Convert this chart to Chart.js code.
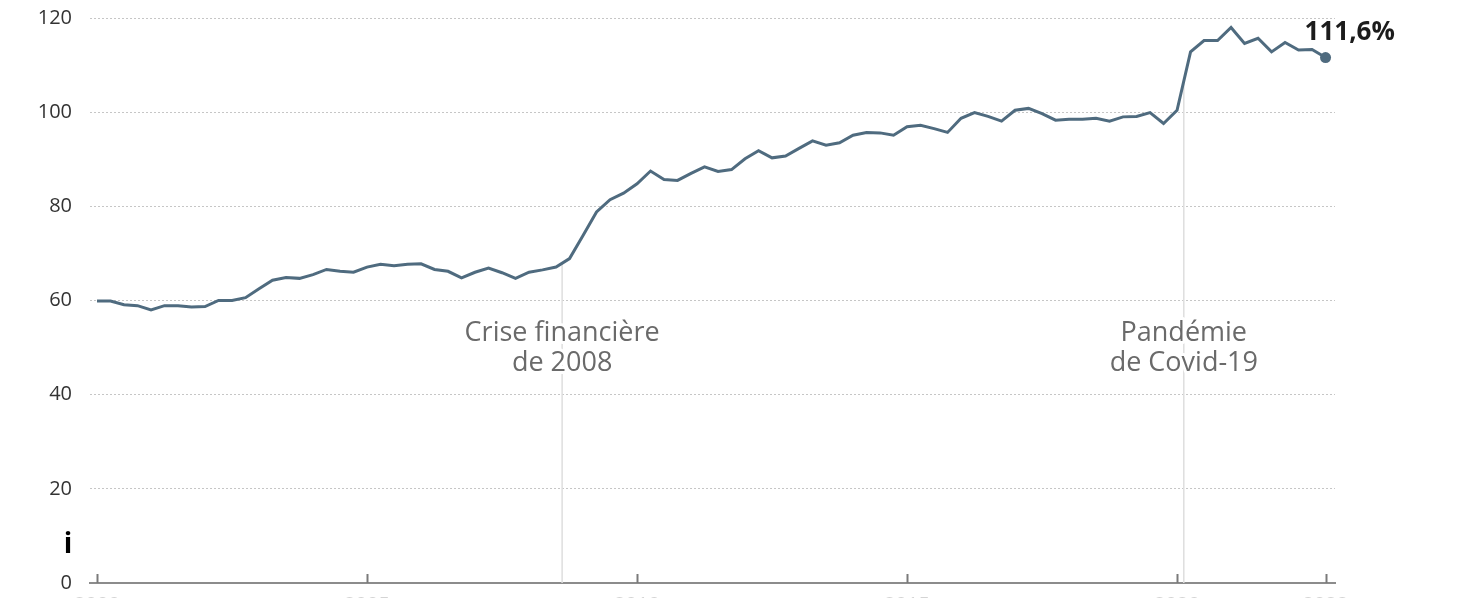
<!DOCTYPE html>
<html lang="fr">
<head>
<meta charset="utf-8">
<title>Dette publique</title>
<script src="https://cdn.jsdelivr.net/npm/chart.js@4/dist/chart.umd.min.js"></script>
<style>
  html, body { margin: 0; padding: 0; background: #fff; overflow: hidden; height: 598px; }
  #wrap { position: relative; width: 1458px; height: 625px; margin-top: -12px; }
</style>
</head>
<body>
<div id="wrap"><canvas id="detteChart"></canvas></div>
<script>
// Dette publique en % du PIB, trimestrielle, 2000 T1 -> 2022 T4
const years = ["2000", "2001", "2002", "2003", "2004", "2005", "2006", "2007", "2008", "2009", "2010", "2011",
  "2012", "2013", "2014", "2015", "2016", "2017", "2018", "2019", "2020", "2021", "2022"];
const quarters = years.flatMap((y) => [y + "T1", y + "T2", y + "T3", y + "T4"]);

const debtValues = [
  59.9, 59.9, 59.1, 58.9,
  58.0, 58.9, 58.9, 58.6,
  58.7, 60.0, 60.0, 60.6,
  62.5, 64.3, 64.9, 64.7,
  65.5, 66.6, 66.2, 66.0,
  67.1, 67.7, 67.4, 67.7,
  67.8, 66.6, 66.2, 64.8,
  66.0, 66.9, 65.9, 64.7,
  66.0, 66.5, 67.1, 68.9,
  73.8, 78.8, 81.4, 82.8,
  84.8, 87.5, 85.7, 85.5,
  87.0, 88.4, 87.4, 87.8,
  90.1, 91.8, 90.3, 90.7,
  92.3, 93.9, 93.0, 93.5,
  95.1, 95.7, 95.6, 95.1,
  96.9, 97.2, 96.5, 95.7,
  98.7, 99.9, 99.1, 98.1,
  100.4, 100.8, 99.7, 98.3,
  98.5, 98.5, 98.7, 98.1,
  99.0, 99.1, 99.9, 97.6,
  100.4, 112.8, 115.2, 115.2,
  118.0, 114.6, 115.7, 112.8,
  114.8, 113.2, 113.3, 111.6,
];

// Graduations de l'axe des x (index du trimestre) et leurs libellés
const xTickIndex = [0, 20, 40, 60, 80, 91];
const xTickLabels = ["2000", "2005", "2010", "2015", "2020", "2022"];
const yTicks = [0, 20, 40, 60, 80, 100, 120];

// Evénements annotés (position en index de trimestre)
const eventIndex = [34.45, 80.5];
const eventLabels = [["Crise financière", "de 2008"], ["Pandémie", "de Covid-19"]];
const lastLabel = "111,6%";

const lineColor = "#4f6b7f";

// Valeur interpolée de la courbe pour un index fractionnaire
function valueAt(idx) {
  const i = Math.floor(idx);
  const t = idx - i;
  const a = debtValues[i];
  const b = debtValues[Math.min(i + 1, debtValues.length - 1)];
  return a + (b - a) * t;
}

const annotations = {
  id: "annotations",
  beforeDatasetsDraw(chart) {
    const { ctx, chartArea, scales } = chart;
    const x = scales.x;
    const y = scales.y;
    ctx.save();
    // lignes verticales des événements
    ctx.strokeStyle = "#dedede";
    ctx.lineWidth = 1.5;
    eventIndex.forEach((idx) => {
      const px = x.getPixelForValue(idx);
      ctx.beginPath();
      ctx.moveTo(px, y.getPixelForValue(valueAt(idx)));
      ctx.lineTo(px, chartArea.bottom);
      ctx.stroke();
    });
    // petites graduations vers le haut sur l'axe x
    ctx.strokeStyle = "#7a7a7a";
    ctx.lineWidth = 2;
    xTickIndex.forEach((idx) => {
      const px = Math.round(x.getPixelForValue(idx)) + 0.5;
      ctx.beginPath();
      ctx.moveTo(px, chartArea.bottom);
      ctx.lineTo(px, chartArea.bottom - 9);
      ctx.stroke();
    });
    ctx.restore();
  },
  afterDatasetsDraw(chart) {
    const { ctx, scales } = chart;
    const x = scales.x;
    const y = scales.y;
    ctx.save();
    // textes des événements, avec un halo blanc
    ctx.font = "27px 'Open Sans'";
    ctx.textAlign = "center";
    ctx.textBaseline = "middle";
    ctx.lineJoin = "round";
    eventIndex.forEach((idx, k) => {
      const px = x.getPixelForValue(idx);
      eventLabels[k].forEach((line, j) => {
        const py = y.getPixelForValue(53) + j * 30;
        ctx.strokeStyle = "#ffffff";
        ctx.lineWidth = 6;
        ctx.strokeText(line, px, py);
        ctx.fillStyle = "#6a6a6a";
        ctx.fillText(line, px, py);
      });
    });
    // valeur finale
    const lastIdx = debtValues.length - 1;
    const lx = x.getPixelForValue(lastIdx);
    const ly = y.getPixelForValue(debtValues[lastIdx]);
    ctx.font = "bold 26px 'Open Sans'";
    ctx.textAlign = "left";
    ctx.fillStyle = "#1c1c1c";
    ctx.fillText(lastLabel, lx - 21, ly - 25);
    // le "i" isolé en bas à gauche (coordonnées de la page, canvas décalé de 12 px)
    ctx.font = "bold 28px 'Open Sans'";
    ctx.textAlign = "center";
    ctx.textBaseline = "alphabetic";
    ctx.fillStyle = "#000";
    ctx.fillText("i", 68, 553 + 12);
    ctx.restore();
  },
};

const ctx = document.getElementById("detteChart");
new Chart(ctx, {
  type: "line",
  data: {
    datasets: [
      {
        label: "Dette publique (% du PIB)",
        data: debtValues.map((v, i) => ({ x: i, y: v, q: quarters[i] })),
        borderColor: lineColor,
        backgroundColor: lineColor,
        borderWidth: 3,
        tension: 0,
        pointRadius: debtValues.map((v, i) => (i === debtValues.length - 1 ? 5.5 : 0)),
        pointBackgroundColor: lineColor,
        pointBorderWidth: 0,
        clip: false,
      },
    ],
  },
  options: {
    responsive: true,
    maintainAspectRatio: false,
    animation: false,
    layout: { padding: { top: 6, right: 123, bottom: 0, left: 0 } },
    plugins: {
      legend: { display: false },
      tooltip: { enabled: false },
    },
    scales: {
      x: {
        type: "linear",
        min: -0.52,
        max: 91.7,
        afterBuildTicks: (scale) => {
          scale.ticks = xTickIndex.map((v) => ({ value: v }));
        },
        afterFit: (scale) => {
          scale.height = 16;
        },
        ticks: {
          padding: 10,
          color: "#d4d4d4",
          font: { family: "'Open Sans'", size: 20 },
          maxRotation: 0,
          autoSkip: false,
          callback: (value) => xTickLabels[xTickIndex.indexOf(value)],
        },
        grid: { display: false, drawTicks: false },
        border: { display: true, color: "#8c8c8c", width: 2 },
      },
      y: {
        min: 0,
        max: 120,
        afterBuildTicks: (scale) => {
          scale.ticks = yTicks.map((v) => ({ value: v }));
        },
        afterFit: (scale) => {
          scale.width = 90;
        },
        ticks: {
          padding: 18,
          color: "#333333",
          font: { family: "'Open Sans'", size: 20 },
        },
        grid: {
          drawTicks: false,
          color: (c) => (c.tick && c.tick.value === 0 ? "rgba(0,0,0,0)" : "#c6c6c6"),
          lineWidth: 1,
        },
        border: { display: false, dash: [2, 2] },
      },
    },
  },
  plugins: [annotations],
});
</script>
</body>
</html>
